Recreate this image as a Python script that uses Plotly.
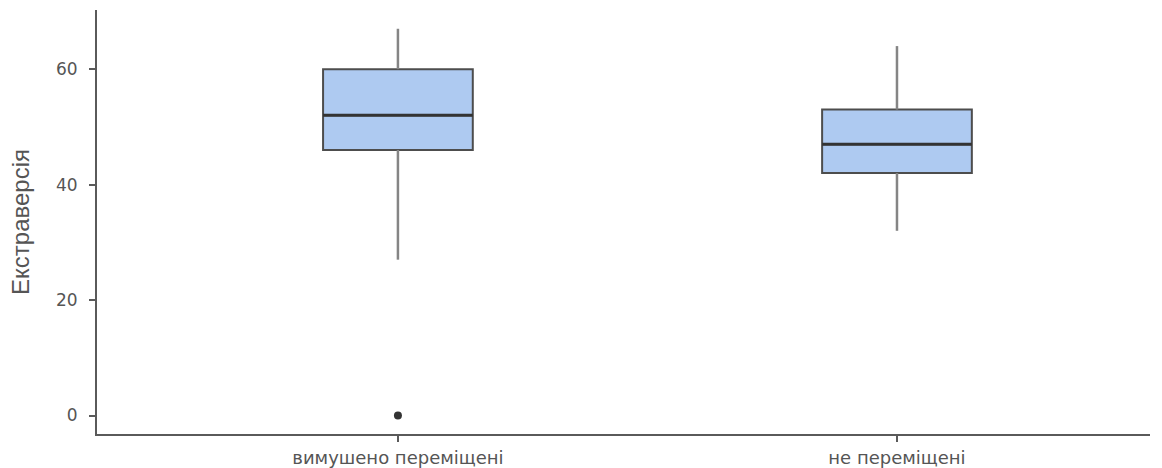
import plotly.graph_objects as go

# Group labels and five-number summaries
groups = ["вимушено переміщені", "не переміщені"]
q1 = [46, 42]
median = [52, 47]
q3 = [60, 53]
lower_whisker = [27, 32]
upper_whisker = [67, 64]

# Outlying observations
outlier_group = ["вимушено переміщені"]
outlier_value = [0]

y_ticks = [0, 20, 40, 60]

BOX_HALF = 0.15
fig = go.Figure()

# Whiskers (drawn in a lighter grey than the boxes)
wx, wy = [], []
for g, a, b, c, d in zip(groups, q1, q3, lower_whisker, upper_whisker):
    wx += [g, g, None, g, g, None]
    wy += [b, d, None, a, c, None]
fig.add_trace(go.Scatter(x=wx, y=wy, mode="lines",
                         line=dict(color="#858585", width=2.5),
                         hoverinfo="skip", showlegend=False))

# Boxes
fig.add_trace(go.Box(
    x=groups, q1=q1, median=median, q3=q3,
    lowerfence=q1, upperfence=q3,
    width=2 * BOX_HALF, whiskerwidth=0,
    fillcolor="#aecaf1", line=dict(color="#4d4d4d", width=2),
    boxpoints=False, showlegend=False,
))

# Heavier median lines
fig.add_trace(go.Box(
    x=groups, q1=median, median=median, q3=median,
    lowerfence=median, upperfence=median,
    width=2 * BOX_HALF, whiskerwidth=0,
    fillcolor="rgba(0,0,0,0)", line=dict(color="#333333", width=3),
    boxpoints=False, showlegend=False,
))

# Outliers
fig.add_trace(go.Scatter(x=outlier_group, y=outlier_value, mode="markers",
                         marker=dict(color="#333333", size=8),
                         showlegend=False))

fig.update_layout(
    width=1162, height=468,
    margin=dict(l=97, r=12, t=10, b=34),
    plot_bgcolor="white", paper_bgcolor="white",
    boxmode="overlay",
    font=dict(family="DejaVu Sans, sans-serif", size=16, color="#555555"),
)
fig.update_xaxes(
    type="category", categoryorder="array", categoryarray=groups,
    range=[-0.603, 1.507], automargin=False,
    showline=True, linecolor="#5a5a5a", linewidth=2,
    ticks="outside", ticklen=6, tickcolor="#5a5a5a", tickwidth=2,
    showgrid=False, zeroline=False,
    tickfont=dict(family="DejaVu Sans, sans-serif", size=18, color="#555555"),
)
fig.update_yaxes(
    range=[-3.2, 70.25], tickvals=y_ticks, automargin=False,
    showline=True, linecolor="#5a5a5a", linewidth=2,
    ticks="outside", ticklen=6, tickcolor="#5a5a5a", tickwidth=2,
    ticklabelstandoff=8,
    showgrid=False, zeroline=False,
    tickfont=dict(family="DejaVu Sans, sans-serif", size=17, color="#555555"),
    title=dict(text="Екстраверсія",
               font=dict(family="Liberation Sans, Arial, sans-serif",
                         size=24, color="#555555"),
               standoff=20),
)

fig.write_html("out.html")
